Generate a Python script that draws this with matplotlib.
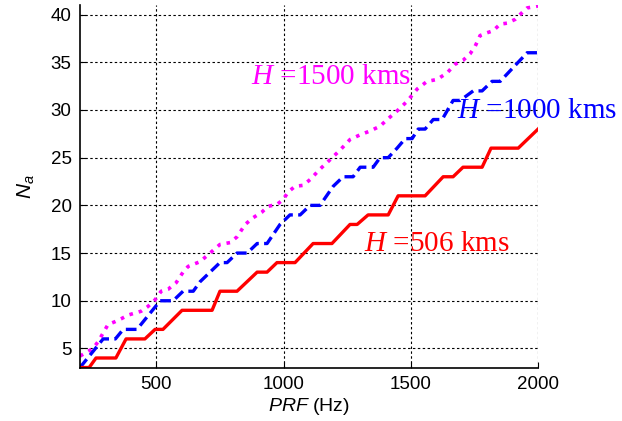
import matplotlib.pyplot as plt

# Number of ambiguities vs. PRF for three orbit heights (vertices)
prf_506 = [200, 236, 263, 341, 381, 455, 495, 526, 601, 719, 750, 817, 896, 935, 974,
           1045, 1116, 1190, 1261, 1289, 1332, 1411, 1450, 1556, 1627, 1666, 1705,
           1780, 1815, 1922, 2000]
na_506 = [3, 3, 4, 4, 6, 6, 7, 7, 9, 9, 11, 11, 13, 13, 14,
          14, 16, 16, 18, 18, 19, 19, 21, 21, 23, 23, 24,
          24, 26, 26, 28]

prf_1000 = [200, 291, 339, 370, 424, 515, 566, 605, 645, 672, 750, 778, 817, 857, 896,
            935, 986, 1025, 1065, 1104, 1143, 1195, 1234, 1273, 1301, 1352, 1379, 1411,
            1446, 1478, 1505, 1529, 1556, 1588, 1623, 1666, 1694, 1745, 1780, 1819,
            1851, 1957, 2000]
na_1000 = [3, 6, 6, 7, 7, 10, 10, 11, 11, 12, 14, 14, 15, 15, 16,
           16, 18, 19, 19, 20, 20, 22, 23, 23, 24, 24, 25, 25,
           26, 27, 27, 28, 28, 29, 29, 31, 31, 32, 32, 33,
           33, 36, 36]

prf_1500 = [200, 251, 271, 310, 337, 361, 389, 440, 467, 495, 519, 546, 578, 605, 625,
            672, 711, 750, 790, 817, 849, 880, 915, 939, 974, 998, 1018, 1045, 1077,
            1104, 1143, 1183, 1222, 1261, 1301, 1340, 1379, 1407, 1446, 1485, 1525,
            1564, 1603, 1643, 1674, 1705, 1733, 1753, 1772, 1800, 1823, 1851, 1878,
            1910, 1929, 1957, 2000]
na_1500 = [4.2, 5.0, 5.7, 7.5, 7.8, 8.1, 8.5, 8.9, 9.4, 10.1, 11, 11.2, 11.9, 13, 13.6,
           14.1, 15, 15.9, 16.1, 16.7, 18, 18.7, 19.3, 19.9, 20.1, 20.6, 21.4, 22, 22.1,
           22.7, 23.8, 24.8, 25.8, 26.9, 27.4, 27.8, 28.3, 29, 29.9, 30.9, 32.2,
           33, 33.2, 33.9, 34.8, 35.2, 35.9, 36.7, 37.8, 38.1, 38.3, 39, 39.1,
           39.5, 40, 40.7, 40.9]

x_ticks = [500, 1000, 1500, 2000]
y_ticks = [5, 10, 15, 20, 25, 30, 35, 40]

# sans italic for axis symbols, serif italic (via \mathcal) for the curve labels
plt.rcParams['font.family'] = 'Liberation Sans'
plt.rcParams['mathtext.fontset'] = 'custom'
plt.rcParams['mathtext.rm'] = 'Liberation Sans'
plt.rcParams['mathtext.it'] = 'Liberation Sans:italic'
plt.rcParams['mathtext.cal'] = 'Liberation Serif:italic'

fig = plt.figure(figsize=(6.22, 4.21), dpi=100)
ax = fig.add_axes([0.1286, 0.127, 0.7365, 0.861])

ax.plot(prf_1500, na_1500, color='#ff00ff', linestyle=':', linewidth=2.6)
ax.plot(prf_1000, na_1000, color='#0000ff', linestyle=(0, (3.2, 1.6)), linewidth=2.4)
ax.plot(prf_506, na_506, color='#ff0000', linestyle='-', linewidth=2.4)

serif = 'Liberation Serif'
ax.text(1187, 33.5, r'$\mathcal{H}$ =1500 kms', color='#ff00ff', fontsize=21,
        family=serif, ha='center', va='center')
ax.text(1998, 29.9, r'$\mathcal{H}$ =1000 kms', color='#0000ff', fontsize=21,
        family=serif, ha='center', va='center', clip_on=False)
ax.text(1603, 15.9, r'$\mathcal{H}$ =506 kms', color='#ff0000', fontsize=21,
        family=serif, ha='center', va='center')

ax.set_xlim(200, 2000)
ax.set_ylim(3, 41)
ax.set_xticks(x_ticks)
ax.set_yticks(y_ticks)
ax.tick_params(direction='in', length=4, labelsize=13.5, pad=6)
ax.grid(True, color='black', linestyle=(0, (2.2, 2.2)), linewidth=0.8)
for side in ['top', 'right']:
    ax.spines[side].set_visible(False)
ax.spines['left'].set_linewidth(1.2)
ax.spines['bottom'].set_linewidth(1.2)

ax.set_xlabel(r'$PRF$ (Hz)', fontsize=14, labelpad=2)
ax.set_ylabel(r'$N_a$', fontsize=15, labelpad=10)

fig.savefig('out.png', dpi=100)
